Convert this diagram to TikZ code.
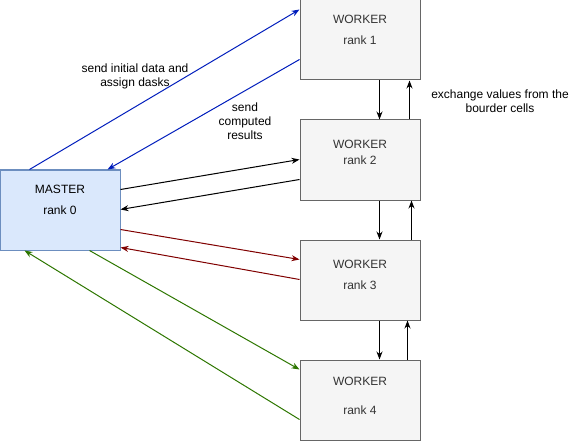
\documentclass[tikz,border=0pt]{standalone}
\usepackage{fontspec}
\setmainfont{Liberation Sans}
\usepackage[xetex]{xcolor}
\usetikzlibrary{positioning,calc,arrows.meta}

\definecolor{masterfill}{HTML}{DAE8FC}
\definecolor{masterline}{HTML}{6C8EBF}
\definecolor{workerfill}{HTML}{F5F5F5}
\definecolor{workerline}{HTML}{666666}
\definecolor{workertext}{HTML}{333333}
\definecolor{blueline}{HTML}{001DBC}
\definecolor{redline}{HTML}{800000}
\definecolor{greenline}{HTML}{2D7600}

\tikzset{
  every node/.style={font=\fontsize{12}{14}\selectfont},
  box/.style={draw, line width=1pt, minimum width=120pt, minimum height=80pt, inner sep=0pt},
  master/.style={box, draw=masterline, fill=masterfill},
  worker/.style={box, draw=workerline, fill=workerfill},
  wtext/.style={align=center, inner sep=0pt, text=workertext},
  msg/.style={line width=1pt, -{Stealth[length=8pt,width=6pt]}},
  note/.style={align=center, inner sep=0pt}
}

\begin{document}
\begin{tikzpicture}[x=1pt, y=-1pt]
\useasboundingbox (0,0) rectangle (581,441);

\def\Worker#1#2#3#4{
\node[worker] (w#1) at (360,#2) {};
\node[wtext, below=#3 of w#1.north] {WORKER\\[#4]rank #1};
}

% master
\node[master] (m) at (60,210) {};
\node[wtext, text=black, below=15.7pt of m.north] {MASTER\\[7pt]rank 0};

% workers
\foreach \i/\y/\t/\g in {1/40/15.7pt/7pt, 2/160/20.7pt/2pt, 3/280/20.7pt/7pt, 4/400/17.7pt/15pt}
  {
    \Worker{\i}{\y}{\t}{\g}
  }

% master <-> workers
\draw[msg, blueline]  ($(m.north west)+(30,0)$) -- ($(w1.north west)+(0,10)$);
\draw[msg, blueline]  ($(w1.north west)+(0,60)$) -- ($(m.north west)+(108,0)$);
\draw[msg]            ($(m.north east)+(0,20)$) -- ($(w2.north west)+(0,40)$);
\draw[msg]            ($(w2.north west)+(0,60)$) -- ($(m.north east)+(0,40)$);
\draw[msg, redline]   ($(m.north east)+(0,60)$) -- ($(w3.north west)+(0,20)$);
\draw[msg, redline]   ($(w3.north west)+(0,40)$) -- ($(m.north east)+(0,78)$);
\draw[msg, greenline] ($(m.south west)+(90,0)$) -- ($(w4.north west)+(0,10)$);
\draw[msg, greenline] ($(w4.north west)+(0,60)$) -- ($(m.south west)+(25,0)$);

% worker <-> worker
\foreach \a/\b/\u in {w1/w2/110, w2/w3/112, w3/w4/108}
  {
    \draw[msg] ($(\a.south west)+(80,0)$) -- ($(\b.north west)+(80,0)$);
    \draw[msg] ($(\b.north west)+(\u,0)$) -- ($(\a.south west)+(\u,0)$);
  }

% notes
\node[note] (sendinit) at (135,76) {send initial data and\\assign dasks};
\node[note] (sendres) at (245,121) {send\\computed\\results};
\node[note] (exch) at (500,101) {exchange values from the\\bourder cells};
\end{tikzpicture}
\end{document}
